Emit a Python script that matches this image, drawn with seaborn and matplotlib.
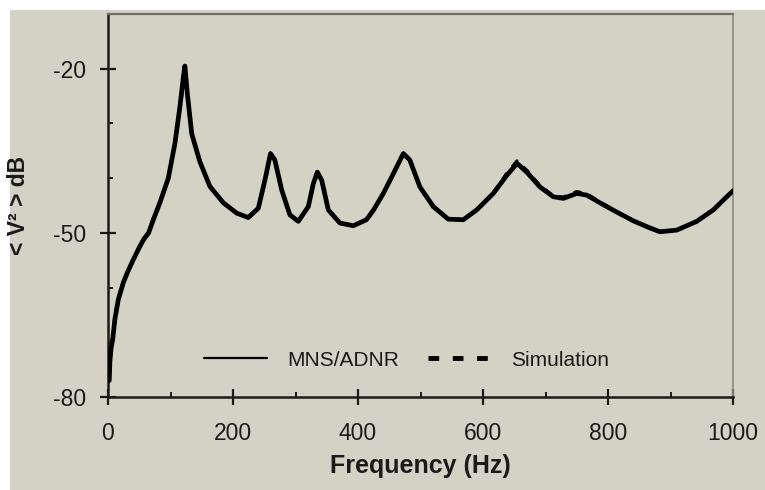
import matplotlib
matplotlib.use("Agg")
import matplotlib.pyplot as plt
import seaborn as sns
import pandas as pd
from matplotlib.lines import Line2D
from matplotlib.patches import Rectangle
from matplotlib.ticker import MultipleLocator

freq_hz = [2, 3, 5, 7.5, 11, 16.5, 24.5, 32, 40.5, 50, 56.5, 65, 72.5, 83, 96.5,
           107, 115, 120.5, 123, 127, 134, 147, 163, 184.5, 206, 224.5, 240.5,
           251, 260, 267, 278, 291, 304.5, 320.5, 328.5, 335, 342, 352.5, 371,
           392.5, 413.5, 425, 440.5, 456.5, 472.5, 483, 499, 520.5, 544.5, 568.5,
           590, 616.5, 638, 654.5, 670, 691, 712.5, 728.5, 750, 766, 787, 814,
           840.5, 867, 883, 910, 942, 968.5, 1000]
mns_db = [-77, -73.6, -71, -69.5, -65.8, -62.2, -59.1, -57, -54.9, -52.7, -51.3,
          -50, -47.6, -44.5, -40, -33.7, -27, -21.6, -19.5, -24.6, -31.9, -37,
          -41.5, -44.5, -46.4, -47.2, -45.5, -40.4, -35.5, -36.7, -42.2, -46.7,
          -47.9, -45.2, -41.0, -38.9, -40.4, -45.8, -48.2, -48.7, -47.6, -45.8,
          -42.8, -39.2, -35.5, -36.7, -41.6, -45.2, -47.5, -47.6, -45.8, -42.8,
          -39.5, -37.3, -38.9, -41.6, -43.4, -43.7, -42.8, -43.1, -44.5, -46.2,
          -47.8, -49.1, -49.8, -49.5, -47.9, -45.8, -42.3]
# simulation, nearly on top of the measurement
sim_db = [-76, -73.3, -70.8, -69.2, -65.6, -62.0, -59.0, -56.9, -54.8, -52.6, -51.2,
          -49.9, -47.5, -44.4, -40, -33.8, -27.2, -22.3, -21.2, -24.9, -31.9, -37,
          -41.5, -44.5, -46.4, -47.2, -45.5, -40.5, -35.7, -36.8, -42.2, -46.7,
          -47.9, -45.2, -41.1, -39.1, -40.5, -45.8, -48.2, -48.7, -47.6, -45.8,
          -42.8, -39.2, -35.6, -36.8, -41.6, -45.2, -47.5, -47.6, -45.8, -42.7,
          -39.2, -36.9, -38.6, -41.4, -43.3, -43.5, -42.5, -42.9, -44.4, -46.2,
          -47.8, -49.1, -49.8, -49.5, -47.9, -45.8, -42.3]

df = pd.DataFrame({"freq": freq_hz, "mns": mns_db, "sim": sim_db})

bg = "#d4d2c5"
sns.set_theme(style="ticks")
plt.rcParams["font.family"] = ["Liberation Sans", "DejaVu Sans"]
plt.rcParams["axes.unicode_minus"] = False

fig = plt.figure(figsize=(7.65, 4.9), dpi=100, facecolor="white")
fig.patches.append(Rectangle((10 / 765, 0), 1, 480 / 490, transform=fig.transFigure,
                             facecolor=bg, edgecolor="none", zorder=-10))
ax = fig.add_axes([108 / 765, 1 - 397 / 490, 625 / 765, 383 / 490])
ax.set_facecolor(bg)

sns.lineplot(data=df, x="freq", y="mns", ax=ax, color="black", lw=3.4, zorder=3)
sns.lineplot(data=df, x="freq", y="sim", ax=ax, color="black", lw=2.6,
             linestyle=(0, (2.2, 2.2)), zorder=4)

ax.set_xlim(0, 1000)
ax.set_ylim(-80, -10)
ax.set_xticks([0, 200, 400, 600, 800, 1000])
ax.set_yticks([-80, -50, -20])
ax.xaxis.set_minor_locator(MultipleLocator(100))
ax.yaxis.set_minor_locator(MultipleLocator(10))

ax.tick_params(which="major", direction="inout", length=11.5, width=1.6,
               colors="#1a1a1a", labelsize=16.5, labelcolor="#1a1a1a")
ax.tick_params(axis="x", which="major", pad=12)
ax.tick_params(axis="y", which="major", pad=10)
ax.tick_params(which="minor", direction="in", length=3.8, width=1.4, colors="#1a1a1a")

for side in ["left", "bottom"]:
    ax.spines[side].set_color("#1a1a1a")
    ax.spines[side].set_linewidth(1.8)
ax.spines["top"].set_color("#6e6e66")
ax.spines["top"].set_linewidth(1.6)
ax.spines["right"].set_color("#8a8a80")
ax.spines["right"].set_linewidth(1.2)

ax.set_xlabel("Frequency (Hz)", fontsize=18, fontweight="bold", color="#1a1a1a")
ax.xaxis.set_label_coords(0.5, -0.148)
ax.set_ylabel("< V² > dB", fontsize=16.5, fontweight="bold", color="#1a1a1a")
ax.yaxis.set_label_coords(-0.125, 0.5)

handles = [Line2D([], [], color="black", lw=1.6),
           Line2D([], [], color="black", lw=3.5, linestyle=(0, (2.2, 2.8)))]
ax.legend(handles, ["MNS/ADNR", "Simulation"], ncol=2, frameon=False, fontsize=15,
          loc="center", bbox_to_anchor=(0.4776, 0.0966), handlelength=3.0,
          handletextpad=1.0, columnspacing=1.35, labelcolor="#1a1a1a")

fig.savefig("out.png", dpi=100, facecolor="white")
